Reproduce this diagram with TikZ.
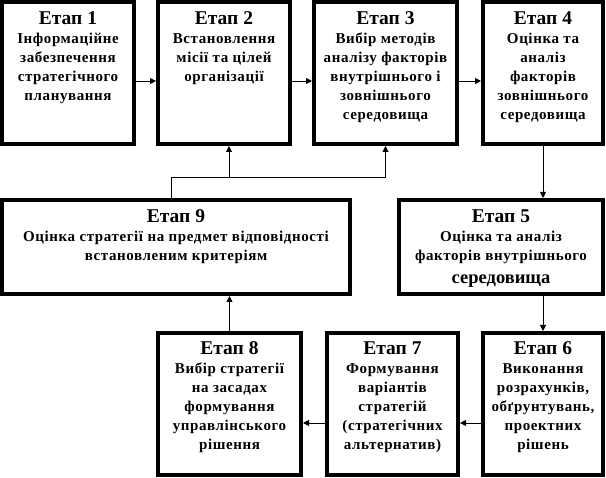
\documentclass[tikz,border=0pt]{standalone}
\usepackage{fontspec}
\setmainfont{Liberation Serif}[BoldFont={Liberation Serif Bold}]
\newfontfamily\tnrfont{Liberation Serif}[BoldFont={Liberation Serif Bold},LetterSpace=4]
\newfontfamily\tnrtitle{Liberation Serif}[BoldFont={Liberation Serif Bold}]
\usetikzlibrary{arrows.meta}
\newcommand\etaptitle[1]{{\tnrtitle\bfseries\fontsize{19.5}{19}\selectfont #1}}
\newcommand\bigword[1]{{\tnrtitle\bfseries\fontsize{18.5}{19}\selectfont #1}}
\begin{document}
\begin{tikzpicture}[x=1pt,y=-1pt,
  box/.style={draw,line width=4pt,inner sep=0pt,fill=white},
  txt/.style={align=center,inner sep=0pt,anchor=north,font=\tnrfont\bfseries\fontsize{15}{19}\selectfont},
  arr/.style={-{Triangle[length=6pt,width=6pt]},line width=0.9pt}]
\useasboundingbox (0,0) rectangle (606,478);
% boxes
\node[box,minimum width=132pt,minimum height=142pt] (b1) at (68,73) {};
\node[box,minimum width=132pt,minimum height=142pt] (b2) at (224,73) {};
\node[box,minimum width=143pt,minimum height=142pt] (b3) at (385.5,73) {};
\node[box,minimum width=120pt,minimum height=142pt] (b4) at (543,73) {};
\node[box,minimum width=348pt,minimum height=94pt] (b9) at (176,247) {};
\node[box,minimum width=204pt,minimum height=94pt] (b5) at (501,247) {};
\node[box,minimum width=143pt,minimum height=142pt] (b8) at (229.5,404) {};
\node[box,minimum width=131pt,minimum height=142pt] (b7) at (392.5,404) {};
\node[box,minimum width=120pt,minimum height=142pt] (b6) at (543,404) {};
% texts
\node[txt,yshift=-11.5pt] (t1) at (b1.north) {\etaptitle{Етап 1}\\Інформаційне\\забезпечення\\стратегічного\\планування};
\node[txt,yshift=-11.5pt] (t2) at (b2.north) {\etaptitle{Етап 2}\\Встановлення\\місії та цілей\\організації};
\node[txt,yshift=-11.5pt] (t3) at (b3.north) {\etaptitle{Етап 3}\\Вибір методів\\аналізу факторів\\внутрішнього і\\зовнішнього\\середовища};
\node[txt,yshift=-11.5pt] (t4) at (b4.north) {\etaptitle{Етап 4}\\Оцінка та\\аналіз\\факторів\\зовнішнього\\середовища};
\node[txt,yshift=-11.5pt] (t9) at (b9.north) {\etaptitle{Етап 9}\\Оцінка стратегії на предмет відповідності\\встановленим критеріям};
\node[txt,yshift=-11.5pt] (t5) at (b5.north) {\etaptitle{Етап 5}\\Оцінка та аналіз\\факторів внутрішнього\\[4pt]\bigword{середовища}};
\node[txt,yshift=-10.5pt] (t8) at (b8.north) {\etaptitle{Етап 8}\\Вибір стратегії\\на засадах\\формування\\управлінського\\рішення};
\node[txt,yshift=-10.5pt] (t7) at (b7.north) {\etaptitle{Етап 7}\\Формування\\варіантів\\стратегій\\(стратегічних\\альтернатив)};
\node[txt,yshift=-10.5pt] (t6) at (b6.north) {\etaptitle{Етап 6}\\Виконання\\розрахунків,\\обґрунтувань,\\проектних\\рішень};
% junction coordinates
\coordinate (j1) at (171,177);
\coordinate (j2) at (229,177);
\coordinate (r1) at (0,81);
\coordinate (r2) at (0,423);
% connectors
\draw[arr] (b1.east|-r1) -- (b2.west|-r1);
\draw[arr] (b2.east|-r1) -- (b3.west|-r1);
\draw[arr] (b3.east|-r1) -- (b4.west|-r1);
\draw[arr] (b4.south) -- (b4.south|-b5.north);
\draw[arr] (b6.north|-b5.south) -- (b6.north);
\draw[arr] (b6.west|-r2) -- (b7.east|-r2);
\draw[arr] (b7.west|-r2) -- (b8.east|-r2);
\draw[arr] (b8.north) -- (b8.north|-b9.south);
\draw[arr] (b9.north-|j1) -- (j1) -- (j1-|b3.south) -- (b3.south);
\draw[arr] (j2) -- (j2|-b2.south);
\end{tikzpicture}
\end{document}
